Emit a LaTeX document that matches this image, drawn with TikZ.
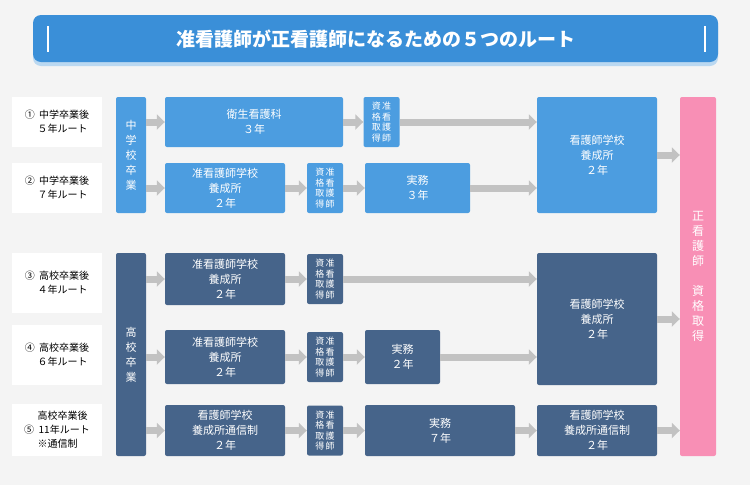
\documentclass[tikz,border=0pt]{standalone}
\usepackage{fontspec}
\setmainfont{Noto Sans CJK JP}
\usetikzlibrary{arrows.meta,positioning}
\definecolor{bgc}{HTML}{F4F4F4}
\definecolor{titlec}{HTML}{3A8FD8}
\definecolor{lightc}{HTML}{4C9DE0}
\definecolor{darkc}{HTML}{46648A}
\definecolor{pinkc}{HTML}{F88FB5}
\definecolor{arrc}{HTML}{C2C2C2}
\begin{document}
\begin{tikzpicture}[x=1pt,y=-1pt,
        box/.style={rectangle, rounded corners=2pt, text=white, align=center, font=\fontsize{11}{15}\selectfont, inner sep=0pt},
        lbox/.style={box, fill=lightc},
        dbox/.style={box, fill=darkc},
        qual/.style={box, minimum width=36pt, minimum height=50pt, font=\fontsize{9}{10.5}\selectfont},
        route/.style={rectangle, fill=white, minimum width=90pt, align=center, font=\fontsize{10}{14}\selectfont},
        arrow/.style={draw=arrc, line width=7pt, -{Triangle[width=15pt,length=8pt]}}
    ]
    % background
    \fill[bgc] (0,0) rectangle (750,485);
    \fill[titlec!35, rounded corners=8pt] (33,18) rectangle (718,66);
    \fill[titlec, rounded corners=8pt] (33,15) rectangle (718,62);
    \fill[white] (47,26) rectangle (49,52);
    \fill[white] (704,26) rectangle (706,52);
    \node[text=white, font=\bfseries\fontsize{19}{22}\selectfont] (title) at (375.5,39) {准看護師が正看護師になるための５つのルート};

    % route labels
    \node[route, minimum height=50pt] (r1) at (57,122) {①\ \ 中学卒業後\\\ \ \ \ \ ５年ルート};
    \node[route, minimum height=50pt] (r2) at (57,188) {②\ \ 中学卒業後\\\ \ \ \ \ ７年ルート};
    \node[route, minimum height=60pt] (r3) at (57,283) {③\ \ 高校卒業後\\\ \ \ \ \ ４年ルート};
    \node[route, minimum height=60pt] (r4) at (57,355) {④\ \ 高校卒業後\\\ \ \ \ \ ６年ルート};
    \node[route, minimum height=52pt, align=left] (r5) at (57,430) {\ \ \ \ \ \ 高校卒業後\\⑤\ \ 11年ルート\\\ \ \ \ \ \ ※通信制};

    % graduation columns
    \node[lbox, minimum width=30pt, minimum height=116pt] (jhs) at (131,155) {中\\学\\校\\卒\\業};
    \node[dbox, minimum width=30pt, minimum height=203pt] (hs) at (131,354.5) {高\\校\\卒\\業};

    % row 1
    \node[lbox, minimum width=178pt, minimum height=50pt] (a1) at (254,122) {衛生看護科\\３年};
    \node[lbox, qual] (q1) at (381.5,122) {資\,准\\格\,看\\取\,護\\得\,師};
    % row 2
    \node[lbox, minimum width=120pt, minimum height=50pt] (a2) at (225,188) {准看護師学校\\養成所\\２年};
    \node[lbox, qual] (q2) at (325,188) {資\,准\\格\,看\\取\,護\\得\,師};
    \node[lbox, minimum width=105pt, minimum height=50pt] (w2) at (417.5,188) {実務\\３年};
    % row 3
    \node[dbox, minimum width=120pt, minimum height=52pt] (a3) at (225,279) {准看護師学校\\養成所\\２年};
    \node[dbox, qual] (q3) at (325,279) {資\,准\\格\,看\\取\,護\\得\,師};
    % row 4
    \node[dbox, minimum width=120pt, minimum height=54pt] (a4) at (225,357) {准看護師学校\\養成所\\２年};
    \node[dbox, qual] (q4) at (325,357) {資\,准\\格\,看\\取\,護\\得\,師};
    \node[dbox, minimum width=75pt, minimum height=54pt] (w4) at (402.5,357) {実務\\２年};
    % row 5
    \node[dbox, minimum width=120pt, minimum height=51pt] (a5) at (225,430.5) {看護師学校\\養成所通信制\\２年};
    \node[dbox, qual] (q5) at (325,430.5) {資\,准\\格\,看\\取\,護\\得\,師};
    \node[dbox, minimum width=150pt, minimum height=51pt] (w5) at (440,430.5) {実務\\７年};
    \node[dbox, minimum width=120pt, minimum height=51pt] (n5) at (597,430.5) {看護師学校\\養成所通信制\\２年};

    % nursing schools and licence
    \node[lbox, minimum width=120pt, minimum height=116pt] (n1) at (597,155) {看護師学校\\養成所\\２年};
    \node[dbox, minimum width=120pt, minimum height=132pt] (n2) at (597,319) {看護師学校\\養成所\\２年};
    \node[box, fill=pinkc, minimum width=36pt, minimum height=359pt, font=\fontsize{12}{15}\selectfont] (lic) at (698,276.5) {正\\看\\護\\師\\\\資\\格\\取\\得};

    % arrows
    \draw[arrow] (jhs.east|-a1.west) -- (a1.west);
    \draw[arrow] (a1) -- (q1);
    \draw[arrow] (q1.east) -- (n1.west|-q1.east);
    \draw[arrow] (jhs.east|-a2.west) -- (a2.west);
    \draw[arrow] (a2) -- (q2);
    \draw[arrow] (q2) -- (w2);
    \draw[arrow] (w2.east) -- (n1.west|-w2.east);
    \draw[arrow] (hs.east|-a3.west) -- (a3.west);
    \draw[arrow] (a3) -- (q3);
    \draw[arrow] (q3.east) -- (n2.west|-q3.east);
    \draw[arrow] (hs.east|-a4.west) -- (a4.west);
    \draw[arrow] (a4) -- (q4);
    \draw[arrow] (q4) -- (w4);
    \draw[arrow] (w4.east) -- (n2.west|-w4.east);
    \draw[arrow] (hs.east|-a5.west) -- (a5.west);
    \draw[arrow] (a5) -- (q5);
    \draw[arrow] (q5) -- (w5);
    \draw[arrow] (w5) -- (n5);
    \draw[arrow] (n1.east) -- (lic.west|-n1.east);
    \draw[arrow] (n2.east) -- (lic.west|-n2.east);
    \draw[arrow] (n5.east) -- (lic.west|-n5.east);
\end{tikzpicture}
\end{document}
